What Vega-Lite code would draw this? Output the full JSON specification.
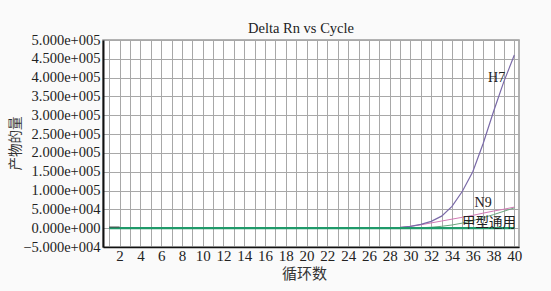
{
  "$schema": "https://vega.github.io/schema/vega-lite/v6.json",
  "width": 416,
  "height": 207,
  "autosize": {"type": "none"},
  "padding": {"left": 103, "top": 40, "right": 32, "bottom": 44},
  "background": "#fafafa",
  "title": {
    "text": "Delta Rn vs Cycle",
    "font": "Liberation Serif",
    "fontSize": 14.5,
    "fontWeight": "normal",
    "color": "#222222",
    "anchor": "middle",
    "frame": "group",
    "dx": -10,
    "dy": 20,
    "offset": 5,
    "baseline": "alphabetic"
  },
  "config": {
    "view": {"stroke": "#9a9a9a", "strokeWidth": 1.5, "fill": "#ffffff"},
    "axis": {
      "labelFont": "Liberation Serif",
      "titleFont": "Liberation Serif, Noto Sans CJK SC",
      "labelColor": "#222222",
      "titleColor": "#333333",
      "titleFontWeight": "normal",
      "gridColor": "#a8a8a8",
      "gridWidth": 1,
      "ticks": false,
      "domainColor": "#111111"
    }
  },
  "datasets": {
    "curves": [
      {"cycle": 1, "series": "baseline", "value": 0},
      {"cycle": 40, "series": "baseline", "value": 0},
      {"cycle": 1, "series": "bg", "value": 3000},
      {"cycle": 2, "series": "bg", "value": 3000},
      {"cycle": 1, "series": "H7", "value": 0},
      {"cycle": 23, "series": "H7", "value": 0},
      {"cycle": 24, "series": "H7", "value": 200},
      {"cycle": 25, "series": "H7", "value": 300},
      {"cycle": 26, "series": "H7", "value": 400},
      {"cycle": 27, "series": "H7", "value": 600},
      {"cycle": 28, "series": "H7", "value": 1000},
      {"cycle": 29, "series": "H7", "value": 2500},
      {"cycle": 30, "series": "H7", "value": 5000},
      {"cycle": 31, "series": "H7", "value": 10000},
      {"cycle": 32, "series": "H7", "value": 18000},
      {"cycle": 33, "series": "H7", "value": 32000},
      {"cycle": 34, "series": "H7", "value": 58000},
      {"cycle": 35, "series": "H7", "value": 98000},
      {"cycle": 36, "series": "H7", "value": 150000},
      {"cycle": 37, "series": "H7", "value": 225000},
      {"cycle": 38, "series": "H7", "value": 310000},
      {"cycle": 39, "series": "H7", "value": 390000},
      {"cycle": 40, "series": "H7", "value": 460000},
      {"cycle": 1, "series": "N9", "value": 0},
      {"cycle": 28, "series": "N9", "value": 0},
      {"cycle": 29, "series": "N9", "value": 1500},
      {"cycle": 30, "series": "N9", "value": 5000},
      {"cycle": 31, "series": "N9", "value": 9000},
      {"cycle": 32, "series": "N9", "value": 14000},
      {"cycle": 33, "series": "N9", "value": 19000},
      {"cycle": 34, "series": "N9", "value": 24000},
      {"cycle": 35, "series": "N9", "value": 29000},
      {"cycle": 36, "series": "N9", "value": 34000},
      {"cycle": 37, "series": "N9", "value": 40000},
      {"cycle": 38, "series": "N9", "value": 45500},
      {"cycle": 39, "series": "N9", "value": 50500},
      {"cycle": 40, "series": "N9", "value": 56000},
      {"cycle": 1, "series": "甲型通用", "value": 0},
      {"cycle": 30, "series": "甲型通用", "value": 0},
      {"cycle": 31, "series": "甲型通用", "value": 1000},
      {"cycle": 32, "series": "甲型通用", "value": 2500},
      {"cycle": 33, "series": "甲型通用", "value": 5000},
      {"cycle": 34, "series": "甲型通用", "value": 8500},
      {"cycle": 35, "series": "甲型通用", "value": 13500},
      {"cycle": 36, "series": "甲型通用", "value": 20000},
      {"cycle": 37, "series": "甲型通用", "value": 28000},
      {"cycle": 38, "series": "甲型通用", "value": 36000},
      {"cycle": 39, "series": "甲型通用", "value": 45000},
      {"cycle": 40, "series": "甲型通用", "value": 54000}
    ],
    "labels": [
      {"cycle": 38.3, "value": 400000, "label": "H7", "kind": "latin"},
      {"cycle": 37.0, "value": 66000, "label": "N9", "kind": "latin"},
      {"cycle": 37.55, "value": 14000, "label": "甲型通用", "kind": "cjk"}
    ]
  },
  "encoding": {
    "x": {
      "field": "cycle",
      "type": "quantitative",
      "scale": {"domain": [0.4, 40.45], "nice": false, "zero": false},
      "axis": {
        "title": "循环数",
        "titleFontSize": 15,
        "titleX": 201,
        "titleY": 26,
        "titleBaseline": "middle",
        "labelFontSize": 15,
        "labelPadding": 1,
        "values": [1,2,3,4,5,6,7,8,9,10,11,12,13,14,15,16,17,18,19,20,21,22,23,24,25,26,27,28,29,30,31,32,33,34,35,36,37,38,39,40],
        "labelExpr": "datum.value % 2 == 0 ? datum.label : ''",
        "labelOverlap": false,
        "labelFlush": false,
        "domainWidth": 1.5,
        "grid": true
      }
    },
    "y": {
      "field": "value",
      "type": "quantitative",
      "scale": {"domain": [-50000, 500000], "nice": false, "zero": false},
      "axis": {
        "title": "产物的量",
        "titleFontSize": 13.5,
        "titleAngle": -90,
        "titleX": -88,
        "titleY": 103,
        "titleAlign": "center",
        "titleBaseline": "middle",
        "labelFontSize": 14.5,
        "labelPadding": 3,
        "values": [-50000, 0, 50000, 100000, 150000, 200000, 250000, 300000, 350000, 400000, 450000, 500000],
        "labelExpr": "replace(format(datum.value, '.3e'), 'e+', 'e+00')",
        "labelOverlap": false,
        "labelFlush": false,
        "domainWidth": 2,
        "grid": true
      }
    }
  },
  "layer": [
    {
      "data": {"name": "curves"},
      "transform": [{"filter": "datum.series == '甲型通用'"}],
      "mark": {"type": "line", "color": "#6aa67e", "strokeWidth": 1},
      "encoding": {}
    },
    {
      "data": {"name": "curves"},
      "transform": [{"filter": "datum.series == 'N9'"}],
      "mark": {"type": "line", "color": "#d27ab5", "strokeWidth": 1},
      "encoding": {}
    },
    {
      "data": {"name": "curves"},
      "transform": [{"filter": "datum.series == 'H7'"}],
      "mark": {"type": "line", "color": "#7a6aa8", "strokeWidth": 1.2},
      "encoding": {}
    },
    {
      "data": {"name": "curves"},
      "transform": [{"filter": "datum.series == 'baseline'"}],
      "mark": {"type": "line", "color": "#1f9a6a", "strokeWidth": 2.2},
      "encoding": {}
    },
    {
      "data": {"name": "curves"},
      "transform": [{"filter": "datum.series == 'bg'"}],
      "mark": {"type": "line", "color": "#444444", "strokeWidth": 1},
      "encoding": {}
    },
    {
      "data": {"name": "labels"},
      "transform": [{"filter": "datum.kind == 'latin'"}],
      "mark": {"type": "text", "font": "Liberation Serif", "fontSize": 14, "color": "#222222", "align": "center", "baseline": "middle"},
      "encoding": {"text": {"field": "label"}}
    },
    {
      "data": {"name": "labels"},
      "transform": [{"filter": "datum.kind == 'cjk'"}],
      "mark": {"type": "text", "font": "Noto Sans CJK SC", "fontSize": 13.5, "color": "#222222", "align": "center", "baseline": "middle"},
      "encoding": {"text": {"field": "label"}}
    }
  ]
}
